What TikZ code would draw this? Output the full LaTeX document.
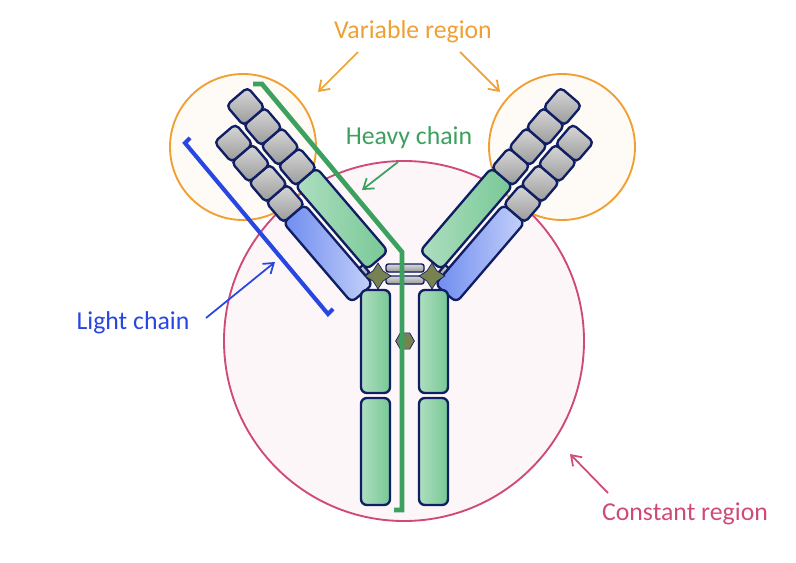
\documentclass[tikz,border=0pt]{standalone}
\usepackage{fontspec}
\setmainfont{Carlito}
\usetikzlibrary{arrows.meta,shapes.geometric,positioning}
\definecolor{navyline}{RGB}{16,30,100}
\definecolor{chaingreen}{RGB}{120,200,150}
\definecolor{chainblue}{RGB}{110,140,240}
\definecolor{varorange}{RGB}{240,160,50}
\definecolor{constpink}{RGB}{208,74,120}
\definecolor{heavygreen}{RGB}{60,160,95}
\definecolor{lightblue}{RGB}{40,70,225}
\definecolor{hingeolive}{RGB}{120,130,80}

\tikzset{
  greenseg/.style={draw=navyline, line width=2pt, rounded corners=5pt,
                   left color=chaingreen!60!white, right color=chaingreen},
  blueseg/.style={draw=navyline, line width=2pt, rounded corners=5pt,
                  left color=chainblue, right color=chainblue!40!white},
  grayseg/.style={draw=navyline, line width=2pt, rounded corners=4pt,
                  top color=gray!30, bottom color=gray!80},
  label/.style={font=\fontsize{22}{26}\selectfont},
  pointer/.style={-{Straight Barb[length=8pt,width=11pt]}, line width=1.5pt}
}

% one arm: origin, angle, side of the light chain
\newcommand{\abarm}[3]{
  \begin{scope}[shift={(#1)}, rotate=#2, x=0.03cm, y=#3*0.03cm]
    % heavy chain
    \fill[greenseg] (10,-14) rectangle (120,14);
    \foreach \s in {120,146.5,173,199.5}
      \fill[grayseg] (\s,-14) rectangle ({\s+26.5},14);
    % light chain
    \fill[blueseg] (-5,19) rectangle (100,47);
    \foreach \s in {100,126.5,153,179.5}
      \fill[grayseg] (\s,19) rectangle ({\s+26.5},47);
    \fill[grayseg, rounded corners=1pt] (6,14) rectangle (16,19);
  \end{scope}
}

\begin{document}
\begin{tikzpicture}[x=0.03cm, y=-0.03cm]
\useasboundingbox (0,0) rectangle (796,562);

% Regions
\draw[constpink, fill=constpink!5, line width=1.6pt] (404,341) circle[radius=180];
\draw[varorange, fill=varorange!5, line width=1.6pt] (243,147) circle[radius=73];
\draw[varorange, fill=varorange!5, line width=1.6pt] (562,147) circle[radius=73];

% Arms
\abarm{384,268}{130.6}{1}
\abarm{424,268}{49.4}{-1}

% Stem
\fill[greenseg] (361,290) rectangle (390,393);
\fill[greenseg] (361,398) rectangle (390,505);
\fill[greenseg] (419,290) rectangle (448,393);
\fill[greenseg] (419,398) rectangle (448,505);

% Hinge
\fill[grayseg, rounded corners=2pt, line width=1.2pt] (386,264) rectangle (424,272);
\fill[grayseg, rounded corners=2pt, line width=1.2pt] (386,276) rectangle (424,284);
\node[star, star points=4, star point ratio=1.8, fill=hingeolive, draw=navyline,
      line width=0.6pt, minimum size=22pt, inner sep=0pt] (hingeL) at (378,276) {};
\node[star, star points=4, star point ratio=1.8, fill=hingeolive, draw=navyline,
      line width=0.6pt, minimum size=22pt, inner sep=0pt] (hingeR) at (432,276) {};
\node[regular polygon, regular polygon sides=6, fill=hingeolive, draw=navyline,
      line width=0.6pt, minimum size=16pt, inner sep=0pt] (link) at (405,341) {};

% Chain markers
\draw[heavygreen, line width=4pt, line join=miter]
  (253,84) -- (262,84) -- (402,252) -- (402,510) -- (394,510);
\draw[lightblue, line width=3.5pt]
  (190,138) -- (185,143) -- (328,314) -- (333,309);

% Labels
\node[label, text=varorange] (varlbl) at (413,32) {Variable region};
\node[label, text=heavygreen] (heavylbl) at (409,138) {Heavy chain};
\node[label, text=lightblue] (lightlbl) at (133,323) {Light chain};
\node[label, text=constpink] (constlbl) at (685,514) {Constant region};

\coordinate (varL) at (318,92);
\coordinate (varR) at (500,92);
\coordinate (heavyT) at (362,190);
\coordinate (lightT) at (275,262);
\coordinate (constT) at (570,454);

\draw[pointer, varorange] (358,52) -- (varL);
\draw[pointer, varorange] (460,52) -- (varR);
\draw[pointer, heavygreen] (398,162) -- (heavyT);
\draw[pointer, lightblue] (206,318) -- (lightT);
\draw[pointer, constpink] (608,493) -- (constT);

\end{tikzpicture}
\end{document}
